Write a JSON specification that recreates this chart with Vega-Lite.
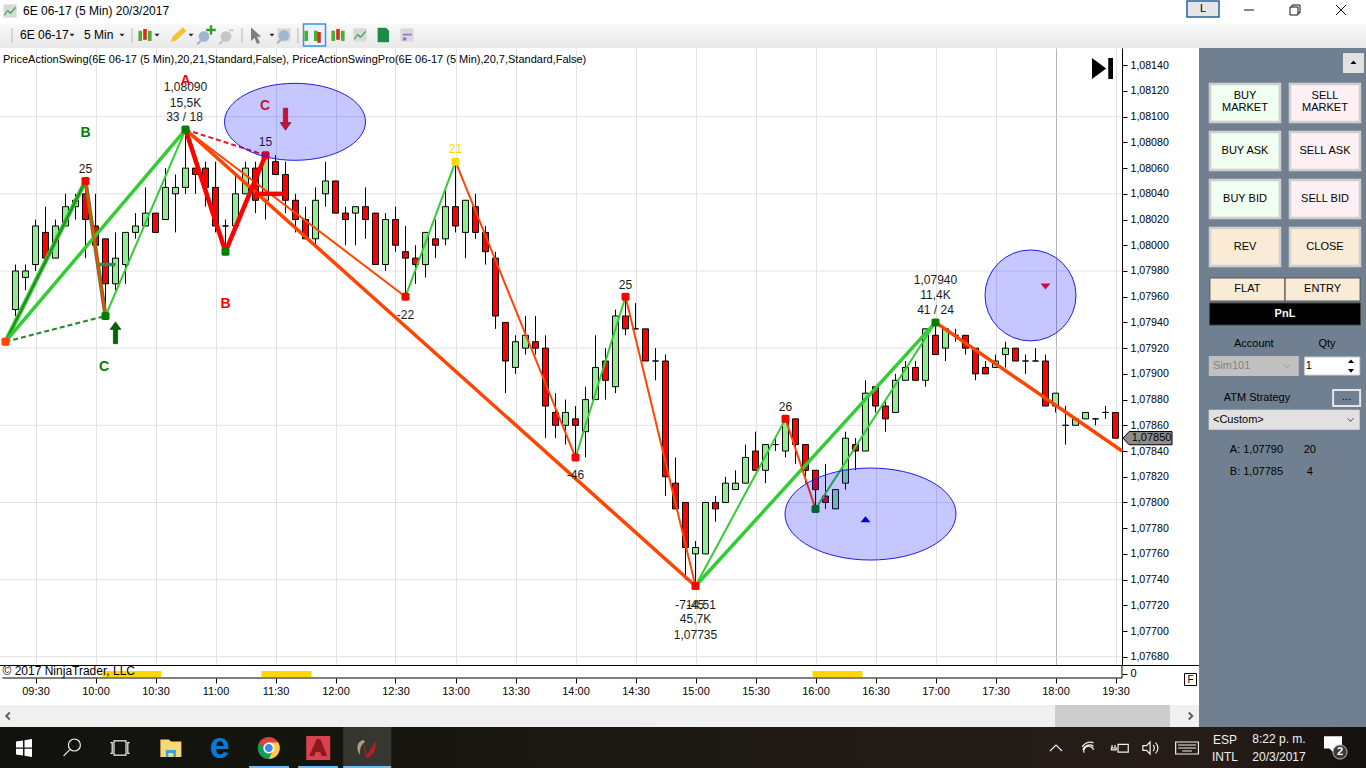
{
  "$schema": "https://vega.github.io/schema/vega-lite/v6.json",
  "background": "white",
  "autosize": {"type": "none"},
  "padding": {"left": 0, "top": 0, "right": 1366, "bottom": 768},
  "config": {
    "font": "Liberation Sans",
    "view": {"stroke": null},
    "text": {"font": "Liberation Sans", "fontSize": 12, "color": "#000000"},
    "point": {"opacity": 1}
  },
  "datasets": {
    "candles": [
      {"bar":1,"open":1.07950,"high":1.07985,"low":1.07945,"close":1.07980},
      {"bar":2,"open":1.07975,"high":1.07985,"low":1.07965,"close":1.07980},
      {"bar":3,"open":1.07985,"high":1.08020,"low":1.07980,"close":1.08015},
      {"bar":4,"open":1.08010,"high":1.08030,"low":1.07990,"close":1.07990},
      {"bar":5,"open":1.07990,"high":1.08020,"low":1.07990,"close":1.08015},
      {"bar":6,"open":1.08015,"high":1.08040,"low":1.08015,"close":1.08030},
      {"bar":7,"open":1.08030,"high":1.08040,"low":1.08020,"close":1.08035},
      {"bar":8,"open":1.08040,"high":1.08050,"low":1.07990,"close":1.08020},
      {"bar":9,"open":1.08015,"high":1.08040,"low":1.07990,"close":1.08000},
      {"bar":10,"open":1.08005,"high":1.08005,"low":1.07945,"close":1.07970},
      {"bar":11,"open":1.07970,"high":1.08010,"low":1.07965,"close":1.07990},
      {"bar":12,"open":1.07985,"high":1.08010,"low":1.07970,"close":1.08010},
      {"bar":13,"open":1.08010,"high":1.08025,"low":1.08005,"close":1.08015},
      {"bar":14,"open":1.08015,"high":1.08045,"low":1.08015,"close":1.08025},
      {"bar":15,"open":1.08025,"high":1.08025,"low":1.08010,"close":1.08010},
      {"bar":16,"open":1.08020,"high":1.08060,"low":1.08020,"close":1.08045},
      {"bar":17,"open":1.08040,"high":1.08055,"low":1.08010,"close":1.08045},
      {"bar":18,"open":1.08045,"high":1.08090,"low":1.08040,"close":1.08060},
      {"bar":19,"open":1.08060,"high":1.08060,"low":1.08040,"close":1.08055},
      {"bar":20,"open":1.08060,"high":1.08065,"low":1.08030,"close":1.08045},
      {"bar":21,"open":1.08045,"high":1.08065,"low":1.08010,"close":1.08015},
      {"bar":22,"open":1.08015,"high":1.08020,"low":1.07995,"close":1.08015},
      {"bar":23,"open":1.08015,"high":1.08055,"low":1.08015,"close":1.08040},
      {"bar":24,"open":1.08040,"high":1.08065,"low":1.08040,"close":1.08060},
      {"bar":25,"open":1.08060,"high":1.08065,"low":1.08025,"close":1.08035},
      {"bar":26,"open":1.08035,"high":1.08070,"low":1.08020,"close":1.08070},
      {"bar":27,"open":1.08065,"high":1.08070,"low":1.08055,"close":1.08055},
      {"bar":28,"open":1.08055,"high":1.08065,"low":1.08025,"close":1.08035},
      {"bar":29,"open":1.08035,"high":1.08040,"low":1.08010,"close":1.08020},
      {"bar":30,"open":1.08020,"high":1.08030,"low":1.08005,"close":1.08005},
      {"bar":31,"open":1.08005,"high":1.08045,"low":1.08000,"close":1.08035},
      {"bar":32,"open":1.08040,"high":1.08065,"low":1.08030,"close":1.08050},
      {"bar":33,"open":1.08050,"high":1.08050,"low":1.08025,"close":1.08025},
      {"bar":34,"open":1.08025,"high":1.08030,"low":1.08000,"close":1.08020},
      {"bar":35,"open":1.08025,"high":1.08030,"low":1.08000,"close":1.08030},
      {"bar":36,"open":1.08030,"high":1.08045,"low":1.08005,"close":1.08020},
      {"bar":37,"open":1.08025,"high":1.08025,"low":1.07985,"close":1.07985},
      {"bar":38,"open":1.07985,"high":1.08025,"low":1.07980,"close":1.08020},
      {"bar":39,"open":1.08020,"high":1.08030,"low":1.07995,"close":1.08000},
      {"bar":40,"open":1.07995,"high":1.08015,"low":1.07960,"close":1.07990},
      {"bar":41,"open":1.07990,"high":1.08000,"low":1.07970,"close":1.07985},
      {"bar":42,"open":1.07985,"high":1.08010,"low":1.07975,"close":1.08010},
      {"bar":43,"open":1.08005,"high":1.08020,"low":1.07990,"close":1.08000},
      {"bar":44,"open":1.08005,"high":1.08045,"low":1.08000,"close":1.08030},
      {"bar":45,"open":1.08030,"high":1.08065,"low":1.08010,"close":1.08015},
      {"bar":46,"open":1.08010,"high":1.08035,"low":1.07990,"close":1.08035},
      {"bar":47,"open":1.08030,"high":1.08040,"low":1.08005,"close":1.08010},
      {"bar":48,"open":1.08010,"high":1.08015,"low":1.07985,"close":1.07995},
      {"bar":49,"open":1.07990,"high":1.07995,"low":1.07935,"close":1.07945},
      {"bar":50,"open":1.07940,"high":1.07940,"low":1.07885,"close":1.07910},
      {"bar":51,"open":1.07905,"high":1.07930,"low":1.07900,"close":1.07925},
      {"bar":52,"open":1.07920,"high":1.07945,"low":1.07915,"close":1.07930},
      {"bar":53,"open":1.07925,"high":1.07945,"low":1.07915,"close":1.07920},
      {"bar":54,"open":1.07920,"high":1.07930,"low":1.07850,"close":1.07875},
      {"bar":55,"open":1.07870,"high":1.07885,"low":1.07850,"close":1.07860},
      {"bar":56,"open":1.07860,"high":1.07880,"low":1.07845,"close":1.07870},
      {"bar":57,"open":1.07865,"high":1.07875,"low":1.07835,"close":1.07860},
      {"bar":58,"open":1.07855,"high":1.07890,"low":1.07835,"close":1.07880},
      {"bar":59,"open":1.07880,"high":1.07930,"low":1.07880,"close":1.07905},
      {"bar":60,"open":1.07910,"high":1.07920,"low":1.07880,"close":1.07895},
      {"bar":61,"open":1.07890,"high":1.07950,"low":1.07885,"close":1.07945},
      {"bar":62,"open":1.07945,"high":1.07960,"low":1.07930,"close":1.07935},
      {"bar":63,"open":1.07935,"high":1.07955,"low":1.07935,"close":1.07935},
      {"bar":64,"open":1.07935,"high":1.07935,"low":1.07910,"close":1.07910},
      {"bar":65,"open":1.07910,"high":1.07920,"low":1.07895,"close":1.07910},
      {"bar":66,"open":1.07910,"high":1.07915,"low":1.07805,"close":1.07820},
      {"bar":67,"open":1.07815,"high":1.07835,"low":1.07795,"close":1.07795},
      {"bar":68,"open":1.07800,"high":1.07800,"low":1.07740,"close":1.07765},
      {"bar":69,"open":1.07760,"high":1.07770,"low":1.07735,"close":1.07765},
      {"bar":70,"open":1.07760,"high":1.07800,"low":1.07760,"close":1.07800},
      {"bar":71,"open":1.07800,"high":1.07805,"low":1.07785,"close":1.07795},
      {"bar":72,"open":1.07800,"high":1.07820,"low":1.07800,"close":1.07815},
      {"bar":73,"open":1.07810,"high":1.07825,"low":1.07810,"close":1.07815},
      {"bar":74,"open":1.07815,"high":1.07845,"low":1.07815,"close":1.07835},
      {"bar":75,"open":1.07840,"high":1.07855,"low":1.07825,"close":1.07825},
      {"bar":76,"open":1.07825,"high":1.07845,"low":1.07815,"close":1.07845},
      {"bar":77,"open":1.07845,"high":1.07850,"low":1.07840,"close":1.07845},
      {"bar":78,"open":1.07840,"high":1.07865,"low":1.07835,"close":1.07865},
      {"bar":79,"open":1.07865,"high":1.07865,"low":1.07830,"close":1.07845},
      {"bar":80,"open":1.07845,"high":1.07845,"low":1.07815,"close":1.07825},
      {"bar":81,"open":1.07825,"high":1.07825,"low":1.07795,"close":1.07810},
      {"bar":82,"open":1.07805,"high":1.07830,"low":1.07795,"close":1.07800},
      {"bar":83,"open":1.07795,"high":1.07810,"low":1.07795,"close":1.07810},
      {"bar":84,"open":1.07815,"high":1.07855,"low":1.07810,"close":1.07850},
      {"bar":85,"open":1.07845,"high":1.07850,"low":1.07825,"close":1.07840},
      {"bar":86,"open":1.07840,"high":1.07895,"low":1.07840,"close":1.07885},
      {"bar":87,"open":1.07890,"high":1.07890,"low":1.07870,"close":1.07875},
      {"bar":88,"open":1.07875,"high":1.07880,"low":1.07855,"close":1.07865},
      {"bar":89,"open":1.07870,"high":1.07900,"low":1.07870,"close":1.07895},
      {"bar":90,"open":1.07895,"high":1.07910,"low":1.07895,"close":1.07905},
      {"bar":91,"open":1.07905,"high":1.07910,"low":1.07895,"close":1.07895},
      {"bar":92,"open":1.07895,"high":1.07935,"low":1.07890,"close":1.07935},
      {"bar":93,"open":1.07930,"high":1.07940,"low":1.07915,"close":1.07915},
      {"bar":94,"open":1.07920,"high":1.07935,"low":1.07910,"close":1.07935},
      {"bar":95,"open":1.07930,"high":1.07935,"low":1.07925,"close":1.07930},
      {"bar":96,"open":1.07930,"high":1.07930,"low":1.07915,"close":1.07920},
      {"bar":97,"open":1.07920,"high":1.07920,"low":1.07895,"close":1.07900},
      {"bar":98,"open":1.07905,"high":1.07910,"low":1.07900,"close":1.07900},
      {"bar":99,"open":1.07905,"high":1.07915,"low":1.07905,"close":1.07910},
      {"bar":100,"open":1.07915,"high":1.07925,"low":1.07905,"close":1.07920},
      {"bar":101,"open":1.07920,"high":1.07920,"low":1.07910,"close":1.07910},
      {"bar":102,"open":1.07910,"high":1.07915,"low":1.07900,"close":1.07910},
      {"bar":103,"open":1.07910,"high":1.07920,"low":1.07910,"close":1.07910},
      {"bar":104,"open":1.07910,"high":1.07915,"low":1.07875,"close":1.07875},
      {"bar":105,"open":1.07875,"high":1.07885,"low":1.07870,"close":1.07885},
      {"bar":106,"open":1.07860,"high":1.07875,"low":1.07845,"close":1.07860},
      {"bar":107,"open":1.07860,"high":1.07865,"low":1.07860,"close":1.07865},
      {"bar":108,"open":1.07865,"high":1.07870,"low":1.07865,"close":1.07870},
      {"bar":109,"open":1.07865,"high":1.07865,"low":1.07860,"close":1.07865},
      {"bar":110,"open":1.07870,"high":1.07875,"low":1.07865,"close":1.07870},
      {"bar":111,"open":1.07870,"high":1.07870,"low":1.07850,"close":1.07850}
    ],
    "levels": [
      {"bar":-0.55,"bar2":111.65,"price":1.0810},{"bar":-0.55,"bar2":111.65,"price":1.0804},
      {"bar":-0.55,"bar2":111.65,"price":1.0798},{"bar":-0.55,"bar2":111.65,"price":1.0792},
      {"bar":-0.55,"bar2":111.65,"price":1.0786},{"bar":-0.55,"bar2":111.65,"price":1.0780},
      {"bar":-0.55,"bar2":111.65,"price":1.0774},{"bar":-0.55,"bar2":111.65,"price":1.0768}
    ],
    "legs": [
      {"kind":"major_up","bar":0,"price":1.07925,"bar2":18,"price2":1.08090},
      {"kind":"major_up","bar":69,"price":1.07735,"bar2":93,"price2":1.07940},
      {"kind":"major_down","bar":18,"price":1.08090,"bar2":69,"price2":1.07735},
      {"kind":"major_down","bar":93,"price":1.07940,"bar2":111.65,"price2":1.07840},
      {"kind":"first_up","bar":0,"price":1.07925,"bar2":8,"price2":1.08050},
      {"kind":"first_down","bar":8,"price":1.08050,"bar2":10,"price2":1.07945},
      {"kind":"minor_up","bar":10,"price":1.07945,"bar2":18,"price2":1.08090},
      {"kind":"minor_up","bar":40,"price":1.07960,"bar2":45,"price2":1.08065},
      {"kind":"minor_up","bar":57,"price":1.07835,"bar2":62,"price2":1.07960},
      {"kind":"minor_up","bar":69,"price":1.07735,"bar2":78,"price2":1.07865},
      {"kind":"minor_up","bar":81,"price":1.07795,"bar2":93,"price2":1.07940},
      {"kind":"minor_down","bar":8,"price":1.08050,"bar2":10,"price2":1.07945},
      {"kind":"minor_down","bar":18,"price":1.08090,"bar2":40,"price2":1.07960},
      {"kind":"minor_down","bar":45,"price":1.08065,"bar2":57,"price2":1.07835},
      {"kind":"minor_down","bar":62,"price":1.07960,"bar2":69,"price2":1.07735},
      {"kind":"minor_down","bar":78,"price":1.07865,"bar2":81,"price2":1.07795},
      {"kind":"abc","bar":18,"price":1.08090,"bar2":22,"price2":1.07995},
      {"kind":"abc","bar":22,"price":1.07995,"bar2":26,"price2":1.08070},
      {"kind":"abc","bar":24.95,"price":1.08040,"bar2":27.95,"price2":1.08040},
      {"kind":"entry_up","bar":9.4,"price":1.07985,"bar2":11,"price2":1.07985},
      {"kind":"dash_up","bar":0,"price":1.07925,"bar2":10,"price2":1.07945},
      {"kind":"dash_down","bar":18,"price":1.08090,"bar2":26,"price2":1.08070}
    ],
    "pivots": [
      {"bar":0,"price":1.07925,"tone":"start"},
      {"bar":8,"price":1.08050,"tone":"high"},
      {"bar":10,"price":1.07945,"tone":"low"},
      {"bar":18,"price":1.08090,"tone":"low"},
      {"bar":22,"price":1.07995,"tone":"low"},
      {"bar":26,"price":1.08070,"tone":"high"},
      {"bar":40,"price":1.07960,"tone":"high"},
      {"bar":45,"price":1.08065,"tone":"peak"},
      {"bar":57,"price":1.07835,"tone":"high"},
      {"bar":62,"price":1.07960,"tone":"high"},
      {"bar":69,"price":1.07735,"tone":"high"},
      {"bar":78,"price":1.07865,"tone":"high"},
      {"bar":81,"price":1.07795,"tone":"low"},
      {"bar":93,"price":1.07940,"tone":"low"}
    ],
    "notes": [
      {"bar":18,"price":1.08123,"note":"1,08090"},
      {"bar":18,"price":1.08111,"note":"15,5K"},
      {"bar":17.9,"price":1.08100,"note":"33 / 18"},
      {"bar":8,"price":1.08059,"note":"25"},
      {"bar":26,"price":1.08080,"note":"15"},
      {"bar":40,"price":1.07946,"note":"-22"},
      {"bar":57,"price":1.07821,"note":"-46"},
      {"bar":62,"price":1.07969,"note":"25"},
      {"bar":69,"price":1.07720,"note":"-714,51"},
      {"bar":69,"price":1.07720,"note":"-45"},
      {"bar":69,"price":1.07709,"note":"45,7K"},
      {"bar":69,"price":1.07697,"note":"1,07735"},
      {"bar":78,"price":1.07874,"note":"26"},
      {"bar":93,"price":1.07973,"note":"1,07940"},
      {"bar":93,"price":1.07961,"note":"11,4K"},
      {"bar":93,"price":1.07950,"note":"41 / 24"}
    ],
    "letters": [
      {"bar":18,"price":1.08128,"letter":"A","tone":"bear"},
      {"bar":8,"price":1.08087,"letter":"B","tone":"bull"},
      {"bar":25.95,"price":1.08108,"letter":"C","tone":"pull"},
      {"bar":22,"price":1.07954,"letter":"B","tone":"bear"},
      {"bar":9.85,"price":1.07905,"letter":"C","tone":"bull"}
    ],
    "buttons": [
      {"col":0,"row":1,"label":"BUY\nMARKET","side":"buy"},
      {"col":1,"row":1,"label":"SELL\nMARKET","side":"sell"},
      {"col":0,"row":2,"label":"BUY ASK","side":"buy"},
      {"col":1,"row":2,"label":"SELL ASK","side":"sell"},
      {"col":0,"row":3,"label":"BUY BID","side":"buy"},
      {"col":1,"row":3,"label":"SELL BID","side":"sell"},
      {"col":0,"row":4,"label":"REV","side":"flat"},
      {"col":1,"row":4,"label":"CLOSE","side":"flat"}
    ]
  },
  "resolve": {"scale": {"color": "independent", "fill": "independent", "shape": "independent", "stroke": "independent", "size": "independent"}},
  "columns": 2,
  "spacing": 0,
  "bounds": "flush",
  "align": "each",
  "concat": [
    {
      "width": 1199,
      "height": 48,
      "view": {"fill": "white"},
      "encoding": {
        "x": {"field": "pos", "type": "quantitative", "scale": {"domain": [0, 1199], "nice": false, "zero": false}, "axis": null},
        "y": {"field": "lev", "type": "quantitative", "scale": {"domain": [48, 0], "nice": false, "zero": false}, "axis": null}
      },
      "layer": [
        {
          "data": {"values": [{"pos": 0, "pos2": 1199, "lev": 24, "lev2": 48}]},
          "mark": {"type": "rect", "color": {"gradient": "linear", "x1": 0, "y1": 0, "x2": 0, "y2": 1, "stops": [{"offset": 0, "color": "#f8f8f8"}, {"offset": 1, "color": "#e9e9e9"}]}},
          "encoding": {"x2": {"field": "pos2"}, "y2": {"field": "lev2"}}
        },
        {
          "data": {"values": [{"pos": 12, "lev": 28, "lev2": 43}, {"pos": 132, "lev": 28, "lev2": 43}, {"pos": 242, "lev": 28, "lev2": 43}, {"pos": 298, "lev": 28, "lev2": 43}]},
          "mark": {"type": "rule", "color": "#b8b8b8"},
          "encoding": {"y2": {"field": "lev2"}}
        },
        {
          "data": {"values": [{"pos": 314.5, "lev": 35}]},
          "mark": {"type": "point", "filled": true, "shape": "M-1,-1H1V1H-1Z", "size": 484, "fill": "#eaf3fb", "stroke": "#3c92e0", "strokeWidth": 1.5, "opacity": 1}
        },
        {
          "data": {"values": [
            {"pos": 10, "lev": 11, "part": "frame"},
            {"pos": 10, "lev": 11, "part": "trend"},
            {"pos": 145, "lev": 35, "part": "greens"},
            {"pos": 145, "lev": 35, "part": "red"},
            {"pos": 178, "lev": 35, "part": "pencil"},
            {"pos": 204, "lev": 36, "part": "lens"},
            {"pos": 211, "lev": 30, "part": "plus"},
            {"pos": 226, "lev": 36, "part": "lensoff"},
            {"pos": 257, "lev": 35, "part": "cursor"},
            {"pos": 284, "lev": 35, "part": "frame"},
            {"pos": 284, "lev": 35, "part": "lens"},
            {"pos": 311, "lev": 35, "part": "greens"},
            {"pos": 319, "lev": 38, "part": "red"},
            {"pos": 338, "lev": 35, "part": "greens"},
            {"pos": 338, "lev": 35, "part": "red"},
            {"pos": 360, "lev": 35, "part": "frame"},
            {"pos": 360, "lev": 35, "part": "trend"},
            {"pos": 383, "lev": 35, "part": "doc"},
            {"pos": 407, "lev": 35, "part": "frame"},
            {"pos": 407, "lev": 35, "part": "sheet"}
          ]},
          "mark": {"type": "point", "filled": true, "size": 144, "stroke": null, "opacity": 1},
          "encoding": {
            "shape": {"field": "part", "type": "nominal", "legend": null, "scale": {"domain": ["frame", "trend", "greens", "red", "pencil", "lens", "plus", "lensoff", "cursor", "doc", "sheet"], "range": [
              "M-1.1,-1.1H1.1V1.1H-1.1Z",
              "M-1,0.6L-0.4,-0.2L0.1,0.2L0.9,-0.7L1,-0.5L0.1,0.5L-0.4,0.1L-0.9,0.8Z",
              "M-1.1,-0.7H-0.5V1H-1.1Z M0.5,-0.7H1.1V1H0.5Z",
              "M-0.3,-1H0.3V0.8H-0.3Z",
              "M-1.2,1.2L-0.9,0.3L0.8,-1.3L1.4,-0.7L-0.3,0.9Z",
              "M-0.9,0.1A0.9,0.9 0 1,1 0.9,0.1A0.9,0.9 0 1,1 -0.9,0.1Z M-0.7,0.7L-1.3,1.3L-1,1.5L-0.4,0.9Z",
              "M-0.2,-0.8H0.2V-0.2H0.8V0.2H0.2V0.8H-0.2V0.2H-0.8V-0.2H-0.2Z",
              "M-0.9,0.1A0.9,0.9 0 1,1 0.9,0.1A0.9,0.9 0 1,1 -0.9,0.1Z M-0.7,0.7L-1.3,1.3L-1,1.5L-0.4,0.9Z M0.5,-1.1H1.3V-0.8H0.5Z",
              "M-1,-1.3L0.7,0.3L0,0.3L0.5,1.3L0,1.5L-0.4,0.5L-1,1Z",
              "M-0.9,-1.2H0.5L1,-0.7V1.2H-0.9Z",
              "M-0.7,-0.2H0.8V0.1H-0.7Z M-0.7,0.4H-0.1V0.9H-0.7Z"
            ]}},
            "fill": {"field": "part", "type": "nominal", "legend": null, "scale": {"domain": ["frame", "trend", "greens", "red", "pencil", "lens", "plus", "lensoff", "cursor", "doc", "sheet"], "range": ["#d9d9d9", "#3aa34a", "#4cae2f", "#d92c20", "#f2c230", "#9db7cf", "#2aa02a", "#c6c6c6", "#7f7f7f", "#1d8a4a", "#9a6ee0"]}}
          }
        },
        {
          "data": {"values": [{"pos": 72, "lev": 35}, {"pos": 122, "lev": 35}, {"pos": 157, "lev": 35}, {"pos": 191, "lev": 35}, {"pos": 272, "lev": 35}]},
          "mark": {"type": "point", "filled": true, "shape": "M-1,-0.5H1L0,0.6Z", "size": 25, "color": "#222222", "opacity": 1}
        },
        {
          "data": {"values": [
            {"pos": 23, "lev": 11, "label": "6E 06-17 (5 Min)  20/3/2017"},
            {"pos": 20, "lev": 35, "label": "6E 06-17"},
            {"pos": 84, "lev": 35, "label": "5 Min"}
          ]},
          "mark": {"type": "text", "align": "left", "baseline": "middle", "fontSize": 12, "font": "Liberation Sans"},
          "encoding": {"text": {"field": "label"}}
        }
      ]
    },
    {
      "width": 167,
      "height": 48,
      "view": {"fill": "white"},
      "encoding": {
        "x": {"field": "pos", "type": "quantitative", "scale": {"domain": [1199, 1366], "nice": false, "zero": false}, "axis": null},
        "y": {"field": "lev", "type": "quantitative", "scale": {"domain": [48, 0], "nice": false, "zero": false}, "axis": null}
      },
      "layer": [
        {
          "data": {"values": [{"pos": 1199, "pos2": 1366, "lev": 24, "lev2": 48}]},
          "mark": {"type": "rect", "color": {"gradient": "linear", "x1": 0, "y1": 0, "x2": 0, "y2": 1, "stops": [{"offset": 0, "color": "#f8f8f8"}, {"offset": 1, "color": "#e9e9e9"}]}},
          "encoding": {"x2": {"field": "pos2"}, "y2": {"field": "lev2"}}
        },
        {
          "data": {"values": [{"pos": 1203, "lev": 9}]},
          "mark": {"type": "point", "filled": true, "shape": "M-1,-0.5H1V0.5H-1Z", "size": 1024, "fill": "#e6e6e6", "stroke": "#2b5c9e", "strokeWidth": 1.5, "opacity": 1}
        },
        {
          "data": {"values": [{"pos": 1203, "lev": 9, "label": "L"}]},
          "mark": {"type": "text", "baseline": "middle", "fontSize": 11, "font": "Liberation Sans"},
          "encoding": {"text": {"field": "label"}}
        },
        {
          "data": {"values": [
            {"pos": 1249, "lev": 10, "part": "min"},
            {"pos": 1295, "lev": 10, "part": "max"},
            {"pos": 1341, "lev": 10, "part": "close"}
          ]},
          "mark": {"type": "point", "filled": false, "size": 100, "stroke": "#111111", "strokeWidth": 1, "opacity": 1},
          "encoding": {
            "shape": {"field": "part", "type": "nominal", "legend": null, "scale": {"domain": ["min", "max", "close"], "range": [
              "M-1,0H1",
              "M-1,-0.6H0.6V1H-1Z M-0.6,-0.6V-1H1V0.6H0.6",
              "M-1,-1L1,1M1,-1L-1,1"
            ]}}
          }
        }
      ]
    },
    {
      "width": 1199,
      "height": 617,
      "view": {"fill": "white"},
      "encoding": {
        "x": {
          "field": "bar",
          "type": "quantitative",
          "scale": {"domain": [-0.55, 119.35], "nice": false, "zero": false, "padding": 0},
          "axis": {
            "title": null, "labels": false, "ticks": false, "domain": false, "grid": true,
            "values": [3, 9, 15, 21, 27, 33, 39, 45, 51, 57, 63, 69, 75, 81, 87, 93, 99, 105, 111],
            "gridColor": {"condition": {"test": "datum.value == 105", "value": "#b4b4b4"}, "value": "#e2e2e2"}
          }
        },
        "y": {
          "field": "price",
          "type": "quantitative",
          "scale": {"domain": [1.076736, 1.081534], "nice": false, "zero": false},
          "axis": {
            "title": null, "orient": "right", "offset": -77, "grid": false,
            "values": [1.0814, 1.0812, 1.0810, 1.0808, 1.0806, 1.0804, 1.0802, 1.0800, 1.0798, 1.0796, 1.0794, 1.0792, 1.0790, 1.0788, 1.0786, 1.0784, 1.0782, 1.0780, 1.0778, 1.0776, 1.0774, 1.0772, 1.0770, 1.0768],
            "labelExpr": "replace(format(datum.value, '.5f'), '.', ',')",
            "domainColor": "#000000", "tickColor": "#000000", "tickSize": 5, "labelColor": "#000000",
            "labelFontSize": 10.6, "labelPadding": 3, "labelOverlap": false, "labelBound": false, "labelFlush": false
          }
        }
      },
      "layer": [
        {
          "data": {"name": "levels"},
          "mark": {"type": "rule", "color": "#e2e2e2", "strokeWidth": 1},
          "encoding": {"x2": {"field": "bar2"}}
        },
        {
          "data": {"name": "candles"},
          "mark": {"type": "rule", "color": "#000000", "strokeWidth": 1},
          "encoding": {"y": {"field": "high", "type": "quantitative", "title": null}, "y2": {"field": "low"}}
        },
        {
          "data": {"name": "candles"},
          "mark": {"type": "bar", "orient": "vertical", "width": 6, "stroke": "#000000", "strokeWidth": 1},
          "encoding": {
            "y": {"field": "open", "type": "quantitative", "title": null},
            "y2": {"field": "close"},
            "color": {"condition": {"test": "datum.close >= datum.open", "value": "#90ee90"}, "value": "#ff0000"}
          }
        },
        {
          "data": {"name": "legs"},
          "transform": [{"filter": "datum.kind == 'first_up'"}],
          "mark": {"type": "rule", "color": "#32cd32", "strokeWidth": 4.5},
          "encoding": {"x2": {"field": "bar2"}, "y2": {"field": "price2"}}
        },
        {
          "data": {"name": "legs"},
          "transform": [{"filter": "datum.kind == 'first_up'"}],
          "mark": {"type": "rule", "color": "#228b22", "strokeWidth": 2},
          "encoding": {"x2": {"field": "bar2"}, "y2": {"field": "price2"}}
        },
        {
          "data": {"name": "legs"},
          "transform": [{"filter": "datum.kind == 'first_down'"}],
          "mark": {"type": "rule", "color": "#4f7d2a", "strokeWidth": 4},
          "encoding": {"x2": {"field": "bar2"}, "y2": {"field": "price2"}}
        },
        {
          "data": {"name": "legs"},
          "transform": [{"filter": "datum.kind == 'major_up'"}],
          "mark": {"type": "rule", "color": "#32cd32", "strokeWidth": 3.5},
          "encoding": {"x2": {"field": "bar2"}, "y2": {"field": "price2"}}
        },
        {
          "data": {"name": "legs"},
          "transform": [{"filter": "datum.kind == 'major_down'"}],
          "mark": {"type": "rule", "color": "#ff4500", "strokeWidth": 3.5},
          "encoding": {"x2": {"field": "bar2"}, "y2": {"field": "price2"}}
        },
        {
          "data": {"name": "legs"},
          "transform": [{"filter": "datum.kind == 'minor_up'"}],
          "mark": {"type": "rule", "color": "#32cd32", "strokeWidth": 2},
          "encoding": {"x2": {"field": "bar2"}, "y2": {"field": "price2"}}
        },
        {
          "data": {"name": "legs"},
          "transform": [{"filter": "datum.kind == 'minor_down'"}],
          "mark": {"type": "rule", "color": "#ff4500", "strokeWidth": 2},
          "encoding": {"x2": {"field": "bar2"}, "y2": {"field": "price2"}}
        },
        {
          "data": {"name": "legs"},
          "transform": [{"filter": "datum.kind == 'abc'"}],
          "mark": {"type": "rule", "color": "#ff0000", "strokeWidth": 4.5},
          "encoding": {"x2": {"field": "bar2"}, "y2": {"field": "price2"}}
        },
        {
          "data": {"name": "legs"},
          "transform": [{"filter": "datum.kind == 'entry_up'"}],
          "mark": {"type": "rule", "color": "#2e8b57", "strokeWidth": 3.5},
          "encoding": {"x2": {"field": "bar2"}, "y2": {"field": "price2"}}
        },
        {
          "data": {"name": "legs"},
          "transform": [{"filter": "datum.kind == 'dash_up'"}],
          "mark": {"type": "rule", "color": "#228b22", "strokeWidth": 2, "strokeDash": [5, 3]},
          "encoding": {"x2": {"field": "bar2"}, "y2": {"field": "price2"}}
        },
        {
          "data": {"name": "legs"},
          "transform": [{"filter": "datum.kind == 'dash_down'"}],
          "mark": {"type": "rule", "color": "#f01030", "strokeWidth": 2, "strokeDash": [5, 3]},
          "encoding": {"x2": {"field": "bar2"}, "y2": {"field": "price2"}}
        },
        {
          "data": {"name": "pivots"},
          "mark": {"type": "point", "filled": true, "shape": "M-1,-0.6Q-1,-1 -0.6,-1H0.6Q1,-1 1,-0.6V0.6Q1,1 0.6,1H-0.6Q-1,1 -1,0.6Z", "size": 64, "opacity": 1},
          "encoding": {
            "fill": {"field": "tone", "type": "nominal", "legend": null, "scale": {"domain": ["start", "high", "low", "peak"], "range": ["#ff4500", "#ff0000", "#008000", "#ffd700"]}}
          }
        },
        {
          "data": {"name": "notes"},
          "mark": {"type": "text", "baseline": "middle", "fontSize": 12, "font": "Liberation Sans", "color": "#1a1a1a"},
          "encoding": {"text": {"field": "note"}}
        },
        {
          "data": {"values": [{"bar": 45, "price": 1.08075, "note": "21"}]},
          "mark": {"type": "text", "baseline": "middle", "fontSize": 12, "font": "Liberation Sans", "color": "#ffd700"},
          "encoding": {"text": {"field": "note"}}
        },
        {
          "data": {"values": [{"bar": 28.95, "price": 1.08096}]},
          "mark": {"type": "point", "filled": true, "shape": "M-1,0A1,0.546 0 1,1 1,0A1,0.546 0 1,1 -1,0Z", "size": 19881, "fill": "#0000ff", "fillOpacity": 0.22, "stroke": "#1e1ee6", "strokeWidth": 1, "opacity": 1}
        },
        {
          "data": {"values": [{"bar": 86.5, "price": 1.07791}]},
          "mark": {"type": "point", "filled": true, "shape": "M-1,0A1,0.538 0 1,1 1,0A1,0.538 0 1,1 -1,0Z", "size": 29241, "fill": "#0000ff", "fillOpacity": 0.22, "stroke": "#1e1ee6", "strokeWidth": 1, "opacity": 1}
        },
        {
          "data": {"values": [{"bar": 102.5, "price": 1.07961}]},
          "mark": {"type": "point", "filled": true, "shape": "circle", "size": 8281, "fill": "#0000ff", "fillOpacity": 0.22, "stroke": "#1e1ee6", "strokeWidth": 1, "opacity": 1}
        },
        {
          "data": {"name": "letters"},
          "mark": {"type": "text", "baseline": "middle", "fontSize": 14, "fontWeight": "bold", "font": "Liberation Sans"},
          "encoding": {
            "text": {"field": "letter"},
            "color": {"field": "tone", "type": "nominal", "legend": null, "scale": {"domain": ["bear", "bull", "pull"], "range": ["#ff0000", "#008000", "#c8103a"]}}
          }
        },
        {
          "data": {"values": [{"bar": 11, "price": 1.07932}]},
          "mark": {"type": "point", "filled": true, "shape": "M-0.2,1L0.2,1L0.2,-0.3L0.5,-0.3L0,-1L-0.5,-0.3L-0.2,-0.3Z", "size": 484, "fill": "#006400", "stroke": "#1a1a1a", "strokeWidth": 0.5, "opacity": 1}
        },
        {
          "data": {"values": [{"bar": 28, "price": 1.08098}]},
          "mark": {"type": "point", "filled": true, "shape": "M-0.2,-1L0.2,-1L0.2,0.3L0.5,0.3L0,1L-0.5,0.3L-0.2,0.3Z", "size": 484, "fill": "#c8103a", "stroke": "#3a1020", "strokeWidth": 0.5, "opacity": 1}
        },
        {
          "data": {"values": [{"bar": 86, "price": 1.07787}]},
          "mark": {"type": "point", "filled": true, "shape": "M-1,0.6L1,0.6L0,-0.6Z", "size": 100, "fill": "#0000cd", "opacity": 1}
        },
        {
          "data": {"values": [{"bar": 104, "price": 1.07968}]},
          "mark": {"type": "point", "filled": true, "shape": "M-1,-0.6L1,-0.6L0,0.6Z", "size": 100, "fill": "#c8103a", "opacity": 1}
        },
        {
          "data": {"values": [{"bar": 109.7, "price": 1.081375}]},
          "mark": {"type": "point", "filled": true, "shape": "M-1,-1L0.35,0L-1,1Z M0.55,-1H1V1H0.55Z", "size": 441, "fill": "#000000", "opacity": 1}
        },
        {
          "data": {"values": [{"bar": 114.2, "price": 1.0785}]},
          "mark": {"type": "point", "filled": true, "shape": "M-1,0L-0.75,-0.27L1,-0.27L1,0.27L-0.75,0.27Z", "size": 2401, "fill": "#8c8c8c", "stroke": "#000000", "strokeWidth": 1, "opacity": 1}
        },
        {
          "data": {"values": [{"bar": 114.6, "price": 1.0785, "note": "1,07850"}]},
          "mark": {"type": "text", "baseline": "middle", "fontSize": 11, "font": "Liberation Sans", "color": "#000000"},
          "encoding": {"text": {"field": "note"}}
        },
        {
          "data": {"values": [{"bar": -0.25, "price": 1.08144, "note": "PriceActionSwing(6E 06-17 (5 Min),20,21,Standard,False), PriceActionSwingPro(6E 06-17 (5 Min),20,7,Standard,False)"}]},
          "mark": {"type": "text", "align": "left", "baseline": "middle", "fontSize": 11, "font": "Liberation Sans", "color": "#000000"},
          "encoding": {"text": {"field": "note"}}
        }
      ]
    },
    {
      "width": 167,
      "height": 617,
      "view": {"fill": "#708090"},
      "encoding": {
        "x": {"field": "col", "type": "quantitative", "scale": {"domain": [-0.575, 1.5125], "nice": false, "zero": false}, "axis": null},
        "y": {"field": "row", "type": "quantitative", "scale": {"domain": [12.708, -0.146], "nice": false, "zero": false}, "axis": null}
      },
      "layer": [
        {
          "data": {"name": "buttons"},
          "mark": {"type": "point", "filled": true, "shape": "M-1,-0.543H1V0.543H-1Z", "size": 4900, "stroke": "#cfcfcf", "strokeWidth": 2.5, "opacity": 1},
          "encoding": {
            "fill": {"field": "side", "type": "nominal", "legend": null, "scale": {"domain": ["buy", "sell", "flat"], "range": ["#f0fff0", "#fff0f5", "#faebd7"]}}
          }
        },
        {
          "data": {"name": "buttons"},
          "transform": [{"filter": "datum.row > 1"}],
          "mark": {"type": "text", "baseline": "middle", "fontSize": 11, "font": "Liberation Sans", "color": "#000000"},
          "encoding": {"text": {"field": "label"}}
        },
        {
          "data": {"name": "buttons"},
          "transform": [{"filter": "datum.row == 1"}],
          "mark": {"type": "text", "baseline": "middle", "dy": -7, "fontSize": 11, "lineBreak": "\n", "lineHeight": 12, "font": "Liberation Sans", "color": "#000000"},
          "encoding": {"text": {"field": "label"}}
        },
        {
          "data": {"values": [{"col": 0.03, "row": 4.885}, {"col": 0.97, "row": 4.885}]},
          "mark": {"type": "point", "filled": true, "shape": "M-1,-0.307H1V0.307H-1Z", "size": 5625, "fill": "#faebd7", "stroke": "#555555", "strokeWidth": 1, "opacity": 1}
        },
        {
          "data": {"values": [{"col": 0.5, "row": 5.396}]},
          "mark": {"type": "point", "filled": true, "shape": "M-1,-0.146H1V0.146H-1Z", "size": 22801, "fill": "#000000", "stroke": "#444444", "strokeWidth": 1, "opacity": 1}
        },
        {
          "data": {"values": [{"col": 0.11, "row": 6.48}]},
          "mark": {"type": "point", "filled": true, "shape": "M-1,-0.222H1V0.222H-1Z", "size": 8100, "fill": "#c0c0c0", "opacity": 1}
        },
        {
          "data": {"values": [{"col": 1.09, "row": 6.48}]},
          "mark": {"type": "point", "filled": true, "shape": "M-1,-0.327H1V0.327H-1Z", "size": 3025, "fill": "#ffffff", "stroke": "#d0d0d0", "strokeWidth": 1, "opacity": 1}
        },
        {
          "data": {"values": [{"col": 1.27, "row": 7.146}]},
          "mark": {"type": "point", "filled": true, "shape": "M-1,-0.593H1V0.593H-1Z", "size": 729, "fill": "#708090", "stroke": "#e4e4e4", "strokeWidth": 2, "opacity": 1}
        },
        {
          "data": {"values": [{"col": 0.49, "row": 7.6}]},
          "mark": {"type": "point", "filled": true, "shape": "M-1,-0.132H1V0.132H-1Z", "size": 22801, "fill": "#e1e1e1", "opacity": 1}
        },
        {
          "data": {"values": [{"col": 1.356, "row": 0.167}]},
          "mark": {"type": "point", "filled": true, "shape": "M-1,-0.95H1V0.95H-1Z", "size": 441, "fill": "#e1e1e1", "opacity": 1}
        },
        {
          "data": {"values": [{"col": 1.356, "row": 0.15}, {"col": 1.325, "row": 6.38}]},
          "mark": {"type": "point", "filled": true, "shape": "M-1,0.6H1L0,-0.6Z", "size": 36, "fill": "#000000", "opacity": 1}
        },
        {
          "data": {"values": [{"col": 1.325, "row": 6.58}]},
          "mark": {"type": "point", "filled": true, "shape": "M-1,-0.6H1L0,0.6Z", "size": 36, "fill": "#000000", "opacity": 1}
        },
        {
          "data": {"values": [{"col": 0.525, "row": 6.48, "tint": "off"}, {"col": 1.32, "row": 7.6, "tint": "on"}]},
          "mark": {"type": "point", "filled": false, "shape": "M-1,-0.5L0,0.5L1,-0.5", "size": 36, "strokeWidth": 1, "opacity": 1},
          "encoding": {"stroke": {"field": "tint", "type": "nominal", "legend": null, "scale": {"domain": ["off", "on"], "range": ["#999999", "#444444"]}}}
        },
        {
          "data": {"values": [
            {"col": 0.03, "row": 4.885, "label": "FLAT"},
            {"col": 0.97, "row": 4.885, "label": "ENTRY"},
            {"col": 0.11, "row": 6.02, "label": "Account"},
            {"col": 1.025, "row": 6.02, "label": "Qty"},
            {"col": 0.15, "row": 7.146, "label": "ATM Strategy"},
            {"col": 1.27, "row": 7.12, "label": "..."},
            {"col": 0.81, "row": 8.23, "label": "20"},
            {"col": 0.81, "row": 8.69, "label": "4"}
          ]},
          "mark": {"type": "text", "baseline": "middle", "fontSize": 11, "font": "Liberation Sans", "color": "#000000"},
          "encoding": {"text": {"field": "label"}}
        },
        {
          "data": {"values": [
            {"col": -0.19, "row": 8.23, "label": "A: 1,07790"},
            {"col": -0.19, "row": 8.69, "label": "B: 1,07785"},
            {"col": -0.4, "row": 7.6, "label": "<Custom>"},
            {"col": 0.76, "row": 6.48, "label": "1"}
          ]},
          "mark": {"type": "text", "align": "left", "baseline": "middle", "fontSize": 11, "font": "Liberation Sans", "color": "#000000"},
          "encoding": {"text": {"field": "label"}}
        },
        {
          "data": {"values": [{"col": -0.4, "row": 6.48, "label": "Sim101"}]},
          "mark": {"type": "text", "align": "left", "baseline": "middle", "fontSize": 11, "font": "Liberation Sans", "color": "#808080"},
          "encoding": {"text": {"field": "label"}}
        },
        {
          "data": {"values": [{"col": 0.5, "row": 5.396, "label": "PnL"}]},
          "mark": {"type": "text", "baseline": "middle", "fontSize": 11, "fontWeight": "bold", "font": "Liberation Sans", "color": "#ffffff"},
          "encoding": {"text": {"field": "label"}}
        }
      ]
    },
    {
      "width": 1199,
      "height": 40,
      "view": {"fill": "white"},
      "encoding": {
        "x": {
          "field": "bar",
          "type": "quantitative",
          "scale": {"domain": [-0.55, 119.35], "nice": false, "zero": false, "padding": 0},
          "axis": {
            "title": null, "offset": -27, "domain": false, "grid": false,
            "values": [3, 9, 15, 21, 27, 33, 39, 45, 51, 57, 63, 69, 75, 81, 87, 93, 99, 105, 111],
            "labelExpr": "['09:30','10:00','10:30','11:00','11:30','12:00','12:30','13:00','13:30','14:00','14:30','15:00','15:30','16:00','16:30','17:00','17:30','18:00','19:30'][(datum.value - 3) / 6]",
            "tickColor": "#000000", "tickSize": 5, "labelColor": "#000000", "labelFontSize": 11, "labelPadding": 2, "labelOverlap": false, "labelFlush": false, "labelBound": false
          }
        },
        "y": {
          "field": "val",
          "type": "quantitative",
          "scale": {"domain": [-31.5, 8.5], "nice": false, "zero": false},
          "axis": {
            "title": null, "orient": "right", "offset": -77, "domain": false, "grid": false, "values": [0],
            "tickColor": "#000000", "tickSize": 5, "labelColor": "#000000", "labelFontSize": 11, "labelPadding": 3, "labelBound": false, "labelFlush": false
          }
        }
      },
      "layer": [
        {
          "data": {"values": [{"bar": 9.7, "bar2": 15.6, "val": 2.5, "val2": -3.5}, {"bar": 25.6, "bar2": 30.6, "val": 2.5, "val2": -3.5}, {"bar": 80.7, "bar2": 85.7, "val": 2.5, "val2": -3.5}]},
          "mark": {"type": "rect", "color": "#ffd700"},
          "encoding": {"x2": {"field": "bar2"}, "y2": {"field": "val2"}}
        },
        {
          "data": {"values": [{"bar": -0.55, "bar2": 119.35, "val": 8, "val2": 8}, {"bar": -0.3, "bar2": 111.65, "val": -4.5, "val2": -4.5}, {"bar": 111.65, "bar2": 111.65, "val": 8, "val2": -4.5}]},
          "mark": {"type": "rule", "color": "#000000", "strokeWidth": 1},
          "encoding": {"x2": {"field": "bar2"}, "y2": {"field": "val2"}}
        },
        {
          "data": {"values": [{"bar": -0.3, "val": 2.5, "note": "© 2017 NinjaTrader, LLC"}]},
          "mark": {"type": "text", "align": "left", "baseline": "middle", "fontSize": 12, "font": "Liberation Sans", "color": "#000000"},
          "encoding": {"text": {"field": "note"}}
        },
        {
          "data": {"values": [{"bar": 118.5, "val": -6}]},
          "mark": {"type": "point", "filled": true, "shape": "M-1,-1H1V1H-1Z", "size": 144, "fill": "#ffffff", "stroke": "#000000", "strokeWidth": 1, "opacity": 1}
        },
        {
          "data": {"values": [{"bar": 118.5, "val": -6, "note": "F"}]},
          "mark": {"type": "text", "baseline": "middle", "fontSize": 10, "font": "Liberation Sans", "color": "#000000"},
          "encoding": {"text": {"field": "note"}}
        }
      ]
    },
    {
      "width": 167,
      "height": 40,
      "view": {"fill": "#708090"},
      "data": {"values": [{"edge": 0}]},
      "mark": {"type": "rule", "opacity": 0},
      "encoding": {}
    },
    {
      "width": 1199,
      "height": 22,
      "view": {"fill": "#f0f0f0"},
      "encoding": {
        "x": {"field": "bar", "type": "quantitative", "scale": {"domain": [-0.55, 119.35], "nice": false, "zero": false, "padding": 0}, "axis": null}
      },
      "layer": [
        {
          "data": {"values": [{"bar": 104.95, "bar2": 116.45}]},
          "mark": {"type": "rect", "color": "#cdcdcd"},
          "encoding": {"x2": {"field": "bar2"}}
        },
        {
          "data": {"values": [{"bar": 0.25, "part": "back"}, {"bar": 118.5, "part": "fwd"}]},
          "mark": {"type": "point", "filled": false, "size": 49, "stroke": "#606060", "strokeWidth": 2, "opacity": 1},
          "encoding": {
            "shape": {"field": "part", "type": "nominal", "legend": null, "scale": {"domain": ["back", "fwd"], "range": ["M0.5,-1L-0.5,0L0.5,1", "M-0.5,-1L0.5,0L-0.5,1"]}}
          }
        }
      ]
    },
    {
      "width": 167,
      "height": 22,
      "view": {"fill": "#708090"},
      "data": {"values": [{"edge": 0}]},
      "mark": {"type": "rule", "opacity": 0},
      "encoding": {}
    },
    {
      "width": 1199,
      "height": 41,
      "view": {"fill": "#161410"},
      "resolve": {"scale": {"shape": "independent"}},
      "encoding": {
        "x": {"field": "slot", "type": "quantitative", "scale": {"domain": [-0.5, 24.479], "nice": false, "zero": false}, "axis": null},
        "y": {"field": "lev", "type": "quantitative", "scale": {"domain": [41, 0], "nice": false, "zero": false}, "axis": null}
      },
      "layer": [
        {
          "data": {"values": [{"slot": -0.5, "slot2": 24.479, "lev": 0, "lev2": 41}]},
          "mark": {"type": "rect", "color": {"gradient": "linear", "x1": 0, "y1": 0, "x2": 1, "y2": 0, "stops": [{"offset": 0, "color": "#11120e"}, {"offset": 0.4, "color": "#181710"}, {"offset": 1, "color": "#271d18"}]}},
          "encoding": {"x2": {"field": "slot2"}, "y2": {"field": "lev2"}}
        },
        {
          "data": {"values": [{"slot": 6.65, "slot2": 7.65, "lev": 0, "lev2": 41}]},
          "mark": {"type": "rect", "color": "#ffffff", "opacity": 0.14},
          "encoding": {"x2": {"field": "slot2"}, "y2": {"field": "lev2"}}
        },
        {
          "data": {"values": [{"slot": 4.69, "slot2": 5.52, "lev": 39, "lev2": 41}, {"slot": 5.71, "slot2": 6.54, "lev": 39, "lev2": 41}, {"slot": 6.65, "slot2": 7.65, "lev": 39, "lev2": 41}]},
          "mark": {"type": "rect", "color": "#76b9ed"},
          "encoding": {"x2": {"field": "slot2"}, "y2": {"field": "lev2"}}
        },
        {
          "data": {"values": [
            {"slot": 0, "lev": 21, "part": "win"},
            {"slot": 3.06, "lev": 21, "part": "folder"},
            {"slot": 3.06, "lev": 21, "part": "folderdoor"},
            {"slot": 5.1, "lev": 21, "part": "chrome"},
            {"slot": 5.1, "lev": 21, "part": "chromegreen"},
            {"slot": 5.1, "lev": 21, "part": "chromeyellow"},
            {"slot": 5.1, "lev": 21, "part": "chromewhite"},
            {"slot": 5.1, "lev": 21, "part": "chromeblue"},
            {"slot": 6.13, "lev": 21, "part": "acad"},
            {"slot": 6.13, "lev": 21, "part": "acada"},
            {"slot": 7.13, "lev": 21, "part": "ninjal"},
            {"slot": 7.13, "lev": 21, "part": "ninjar"}
          ]},
          "mark": {"type": "point", "filled": true, "size": 400, "stroke": null, "opacity": 1},
          "encoding": {
            "shape": {"field": "part", "type": "nominal", "legend": null, "scale": {"domain": ["win", "folder", "folderdoor", "chrome", "chromegreen", "chromeyellow", "chromewhite", "chromeblue", "acad", "acada", "ninjal", "ninjar"], "range": [
              "M-0.8,-0.65L-0.1,-0.75V-0.05H-0.8Z M0.05,-0.78L0.8,-0.9V-0.05H0.05Z M-0.8,0.08H-0.1V0.75L-0.8,0.65Z M0.05,0.08H0.8V0.9L0.05,0.78Z",
              "M-1.05,-0.85H-0.2L0,-0.65H1.05V0.9H-1.05Z",
              "M-0.5,0.2H0.5V0.9H0.25V0.5H-0.25V0.9H-0.5Z",
              "M-1.1,0A1.1,1.1 0 1,1 1.1,0A1.1,1.1 0 1,1 -1.1,0Z",
              "M-0.95,-0.55A1.1,1.1 0 0,0 0,1.1L0.55,0.15L-0.3,0.2Z",
              "M0,-0.55H0.95A1.1,1.1 0 0,1 0,1.1L0.45,0.2Z",
              "M-0.55,0A0.55,0.55 0 1,1 0.55,0A0.55,0.55 0 1,1 -0.55,0Z",
              "M-0.4,0A0.4,0.4 0 1,1 0.4,0A0.4,0.4 0 1,1 -0.4,0Z",
              "M-1.2,-1.2H1.2V1.2H-1.2Z",
              "M-0.9,0.8L-0.15,-0.9H0.2L0.9,0.8H0.35L0.2,0.4H-0.25L-0.4,0.8Z",
              "M-0.3,-0.8C-0.9,-0.7 -1.1,0.1 -0.6,0.7C-0.7,0.1 -0.5,-0.4 -0.1,-0.6Z",
              "M-0.3,-0.6L0.1,0.7L0.9,-0.7C1.1,0 0.7,0.9 0,1C-0.1,0.3 -0.3,-0.2 -0.3,-0.6Z"
            ]}},
            "fill": {"field": "part", "type": "nominal", "legend": null, "scale": {"domain": ["win", "folder", "folderdoor", "chrome", "chromegreen", "chromeyellow", "chromewhite", "chromeblue", "acad", "acada", "ninjal", "ninjar"], "range": ["#ffffff", "#f8d775", "#35a2e6", "#db4437", "#0f9d58", "#ffcd40", "#ffffff", "#4285f4", "#d9434e", "#8c1a1f", "#b09a88", "#b32024"]}}
          }
        },
        {
          "data": {"values": [{"slot": 4.08, "lev": 20, "label": "e"}]},
          "mark": {"type": "text", "baseline": "middle", "fontSize": 36, "fontWeight": "bold", "font": "Liberation Sans", "color": "#0a78d7"},
          "encoding": {"text": {"field": "label"}}
        },
        {
          "data": {"values": [
            {"slot": 1, "lev": 21, "part": "search"},
            {"slot": 2, "lev": 21, "part": "tasks"},
            {"slot": 21.5, "lev": 21, "part": "caret"},
            {"slot": 22.17, "lev": 21, "part": "wifi"},
            {"slot": 22.83, "lev": 21, "part": "battery"},
            {"slot": 23.46, "lev": 21, "part": "volume"},
            {"slot": 24.23, "lev": 21, "part": "keys"}
          ]},
          "mark": {"type": "point", "filled": false, "size": 144, "stroke": "#f0f0f0", "strokeWidth": 1.2, "opacity": 1},
          "encoding": {
            "shape": {"field": "part", "type": "nominal", "legend": null, "scale": {"domain": ["search", "tasks", "caret", "wifi", "battery", "volume", "keys"], "range": [
              "M1.4,-0.5A1,1 0 1,0 -0.6,-0.5A1,1 0 1,0 1.4,-0.5M-0.4,0.3L-1.4,1.3",
              "M-1,-1.2H1V1.2H-1Z M-1.6,-0.9H-1.3V0.9H-1.6 M1.6,-0.9H1.3V0.9H1.6",
              "M-1,0.5L0,-0.5L1,0.5",
              "M-1,-0.2A1.8,1.8 0 0,1 0.9,-0.9M-0.9,0.3A1.2,1.2 0 0,1 0.9,-0.3M-0.7,0.8A0.8,0.8 0 0,1 0.9,0.3",
              "M-0.3,-0.6H1.4V0.7H-0.3Z M-1.3,-0.5V0 M-0.8,-0.5V0 M-1.4,0H-0.6V0.3H-1.4Z",
              "M-1.2,-0.4H-0.6L0,-1V1L-0.6,0.4H-1.2Z M0.5,-0.5A0.7,0.7 0 0,1 0.5,0.5 M0.9,-0.9A1.2,1.2 0 0,1 0.9,0.9",
              "M-1.9,-1H1.9V1H-1.9Z M-1.5,-0.5H1.5 M-1.5,0H1.5 M-0.8,0.5H0.8"
            ]}}
          }
        }
      ]
    },
    {
      "width": 167,
      "height": 41,
      "view": {"fill": "#1c1612"},
      "encoding": {
        "x": {"field": "pos", "type": "quantitative", "scale": {"domain": [1199, 1366], "nice": false, "zero": false}, "axis": null},
        "y": {"field": "lev", "type": "quantitative", "scale": {"domain": [41, 0], "nice": false, "zero": false}, "axis": null}
      },
      "layer": [
        {
          "data": {"values": [{"pos": 1199, "pos2": 1366, "lev": 0, "lev2": 41}]},
          "mark": {"type": "rect", "color": {"gradient": "linear", "x1": 0, "y1": 0, "x2": 1, "y2": 0, "stops": [{"offset": 0, "color": "#271d18"}, {"offset": 1, "color": "#15110e"}]}},
          "encoding": {"x2": {"field": "pos2"}, "y2": {"field": "lev2"}}
        },
        {
          "data": {"values": [
            {"pos": 1225, "lev": 13, "label": "ESP"},
            {"pos": 1225, "lev": 30, "label": "INTL"},
            {"pos": 1279, "lev": 12, "label": "8:22 p. m."},
            {"pos": 1279, "lev": 30, "label": "20/3/2017"}
          ]},
          "mark": {"type": "text", "baseline": "middle", "fontSize": 12, "font": "Liberation Sans", "color": "#f2f2f2"},
          "encoding": {"text": {"field": "label"}}
        },
        {
          "data": {"values": [{"pos": 1333, "lev": 17}]},
          "mark": {"type": "point", "filled": true, "shape": "M-1,-0.85H1V0.5H0.4L0,0.9L-0.4,0.5H-1Z", "size": 324, "fill": "#ffffff", "opacity": 1}
        },
        {
          "data": {"values": [{"pos": 1340, "lev": 25}]},
          "mark": {"type": "point", "filled": true, "shape": "circle", "size": 200, "fill": "#3a3a3a", "stroke": "#bcbcbc", "strokeWidth": 1, "opacity": 1}
        },
        {
          "data": {"values": [{"pos": 1340, "lev": 25, "label": "2"}]},
          "mark": {"type": "text", "baseline": "middle", "fontSize": 11, "fontWeight": "bold", "font": "Liberation Sans", "color": "#ffffff"},
          "encoding": {"text": {"field": "label"}}
        }
      ]
    }
  ]
}
